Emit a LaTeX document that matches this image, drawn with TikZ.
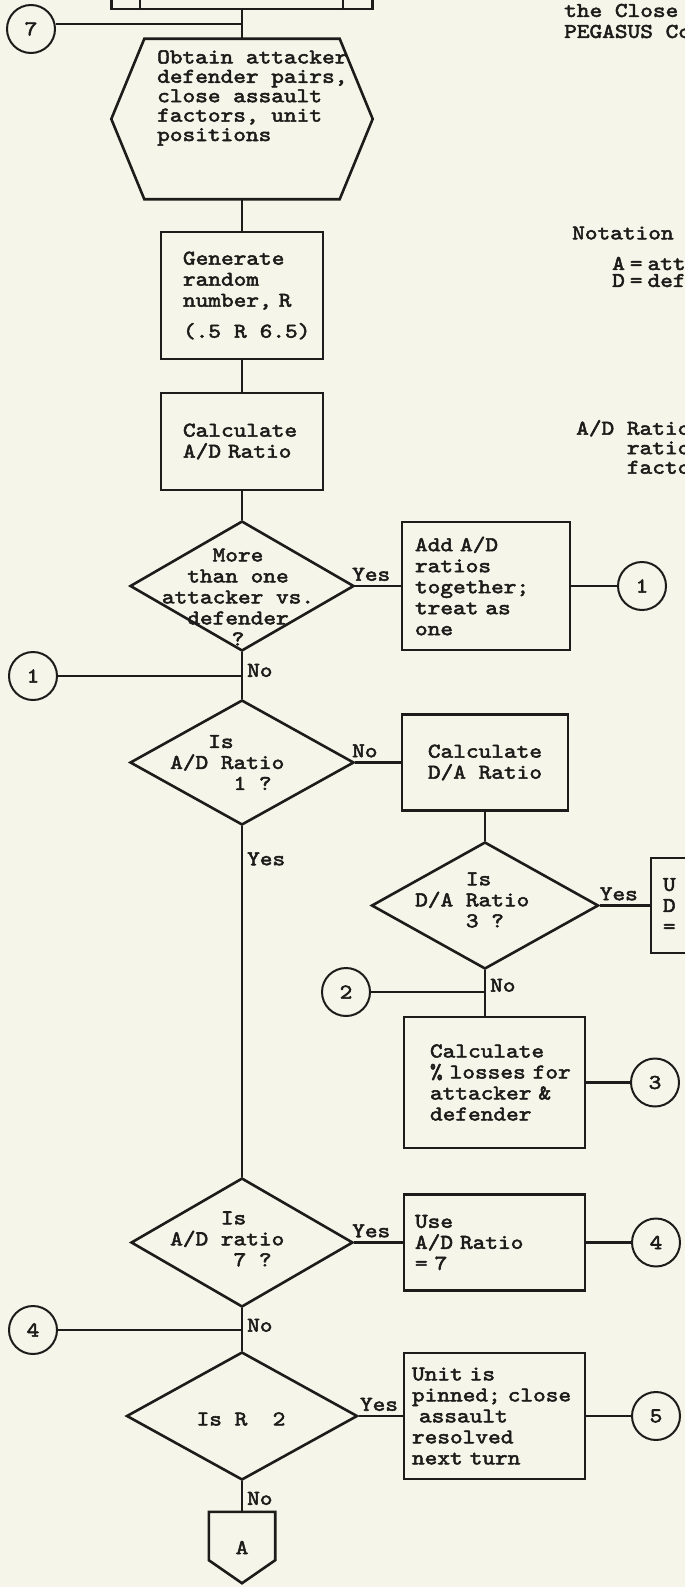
\documentclass[tikz,border=0pt]{standalone}
\usepackage{fontspec}
\usepackage{tikz}
\usetikzlibrary{shapes.geometric}

\newfontfamily\typer{lmmono10-regular}[Extension=.otf, FakeStretch=1.15, FakeBold=2.5, HyphenChar=None]
\definecolor{paper}{RGB}{246,245,233}
\definecolor{ink}{RGB}{30,28,26}

\begin{document}
\begin{tikzpicture}[
        x=1pt, y=-1pt, color=ink,
        txt/.style={font=\typer\fontsize{21}{21}\selectfont, inner sep=0pt},
        line/.style={draw, line width=2.3pt},
        box/.style={txt, draw, rectangle, line width=2.6pt, align=left},
        decision/.style={draw, diamond, line width=2.6pt, inner sep=0pt},
        hexa/.style={rectangle, minimum width=261pt, minimum height=160pt},
        conn/.style={txt, draw, circle, line width=2pt, minimum size=48pt},
        offpage/.style={txt, rectangle, minimum width=66pt, minimum height=71pt},
        lbl/.style={txt, inner sep=4pt}
    ]
    \useasboundingbox (0,0) rectangle (685,1587);
    \fill[paper] (0,0) rectangle (685,1587);

    % Nodes (main line)
    \node[box, minimum width=261pt, minimum height=60pt] (prev) at (242,-21) {};
    \node[hexa] (obtain) at (242,119) {};
    \node[txt, anchor=west, align=left, font=\typer\fontsize{21}{19.4}\selectfont] (obtaintext) at (157,98)
        {Obtain~attacker\\defender~pairs,\\close assault\\factors, unit\\positions};
    \node[box, minimum width=162pt, minimum height=127pt, text width=118pt] (gen) at (242,295.5)
        {Generate\\random\\number, R\\[10pt](.5~\hspace{6pt}R~\hspace{6pt}6.5)};
    \node[box, minimum width=162pt, minimum height=97pt, text width=118pt] (calcad) at (242,441.5)
        {Calculate\\A/D Ratio};
    \node[decision, minimum width=224pt, minimum height=130pt] (more) at (242,586) {};
    \node[txt, align=center] (moretext) at (238,597) {More\\than one\\attacker vs.\\defender\\?};
    \node[decision, minimum width=224pt, minimum height=125pt] (ratioone) at (242,762.5) {};
    \node[txt, anchor=west, align=left] (ratioonetext) at (170,762.5) {~~~Is\\A/D Ratio\\~~~~~1 ?};
    \node[decision, minimum width=222pt, minimum height=129pt] (ratioseven) at (242,1242.5) {};
    \node[txt, anchor=west, align=left] (ratioseventext) at (170,1239) {~~~~Is\\A/D ratio\\~~~~~7 ?};
    \node[decision, minimum width=231pt, minimum height=128pt] (isrtwo) at (242,1416) {};
    \node[txt] (isrtwotext) at (241,1419) {Is R~~2};
    \node[offpage] (offa) at (242,1547.5) {A};

    % Nodes (right branch)
    \node[box, minimum width=168pt, minimum height=128pt, text width=142pt] (addad) at (486,586)
        {Add A/D\\ratios\\together;\\treat as\\one};
    \node[box, minimum width=166pt, minimum height=96pt, align=center] (calcda) at (485,762.5)
        {Calculate\\D/A Ratio};
    \node[decision, minimum width=227pt, minimum height=127pt] (ratiothree) at (485,905.5) {};
    \node[txt, anchor=west, align=left] (ratiothreetext) at (415,900) {~~~~Is\\D/A Ratio\\~~~~3 ?};
    \node[box, minimum width=150pt, minimum height=95pt, text width=126pt] (useda) at (726,905.5) {U\\D\\=};
    \node[box, minimum width=181pt, minimum height=131pt, text width=129pt] (losses) at (494.5,1082.5)
        {Calculate\\\%~losses~for\\attacker~\&\\defender};
    \node[box, minimum width=181pt, minimum height=96pt, text width=159pt] (usead) at (494.5,1242.5)
        {Use\\A/D Ratio\\= 7};
    \node[box, minimum width=181pt, minimum height=126pt, text width=165pt] (pinned) at (494.5,1416)
        {Unit is\\pinned;~close\\~assault\\resolved\\next turn};

    % Connectors
    \node[conn] (seven) at (31,29) {7};
    \node[conn] (onea) at (642,586) {1};
    \node[conn] (oneb) at (33,676) {1};
    \node[conn] (two) at (346,992) {2};
    \node[conn] (three) at (655,1082.5) {3};
    \node[conn] (foura) at (656,1242.5) {4};
    \node[conn] (fourb) at (33,1330) {4};
    \node[conn] (five) at (656,1416) {5};
    \coordinate (j7) at (242,24);
    \coordinate (j1) at (242,676);
    \coordinate (j2) at (485,992);
    \coordinate (j4) at (242,1330);

    % Notes
    \node[txt, anchor=west, align=left] (heading) at (564,21) {the Close\\PEGASUS Co};
    \node[txt, anchor=west] (notation) at (572,233) {Notation};
    \node[txt, anchor=west, align=left, font=\typer\fontsize{21}{17}\selectfont] (notes) at (612,272)
        {A\hspace{5pt}=\hspace{5pt}att\\D\hspace{5pt}=\hspace{5pt}def};
    \node[txt, anchor=west, align=left, font=\typer\fontsize{21}{19.5}\selectfont] (adnote) at (576,447)
        {A/D Ratio\\~~~~ratio\\~~~~facto};

    % Shapes
    \draw[line] ([xshift=30pt]prev.south west) -- ([xshift=30pt]prev.north west);
    \draw[line] ([xshift=-31pt]prev.south east) -- ([xshift=-31pt]prev.north east);
    \draw[line, line width=2.6pt] ([xshift=33pt]obtain.north west) -- ([xshift=-33pt]obtain.north east) -- (obtain.east)
        -- ([xshift=-33pt]obtain.south east) -- ([xshift=33pt]obtain.south west) -- (obtain.west) -- cycle;
    \draw[line, line width=2.6pt] (offa.north west) -- (offa.north east) -- ([yshift=23pt]offa.south east) -- (offa.south)
        -- ([yshift=23pt]offa.south west) -- cycle;

    % Edges
    \draw[line] (prev) -- (obtain);
    \draw[line] (seven.east |- j7) -- (j7);
    \draw[line] (obtain) -- (gen);
    \draw[line] (gen) -- (calcad);
    \draw[line] (calcad) -- (more);
    \draw[line] (more) -- node[lbl, above, pos=0.35] {Yes} (addad);
    \draw[line] (addad) -- (onea);
    \draw[line] (more) -- node[lbl, right, pos=0.39] {No} (ratioone);
    \draw[line] (oneb) -- (j1);
    \draw[line] (ratioone) -- node[lbl, above, pos=0.21] {No} (calcda);
    \draw[line] (calcda) -- (ratiothree);
    \draw[line] (ratiothree) -- node[lbl, above, pos=0.38] {Yes} (useda);
    \draw[line] (ratiothree.south) -- node[lbl, right, pos=0.33] {No} (ratiothree.south |- losses.north);
    \draw[line] (two) -- (j2);
    \draw[line] (losses) -- (three);
    \draw[line] (ratioone) -- node[lbl, right, pos=0.093] {Yes} (ratioseven);
    \draw[line] (ratioseven) -- node[lbl, above, pos=0.35] {Yes} (usead);
    \draw[line] (usead) -- (foura);
    \draw[line] (ratioseven) -- node[lbl, right, pos=0.4] {No} (isrtwo);
    \draw[line] (fourb) -- (j4);
    \draw[line] (isrtwo) -- node[lbl, above, pos=0.46] {Yes} (pinned);
    \draw[line] (pinned) -- (five);
    \draw[line] (isrtwo) -- node[lbl, right, pos=0.56] {No} (offa);
\end{tikzpicture}
\end{document}
